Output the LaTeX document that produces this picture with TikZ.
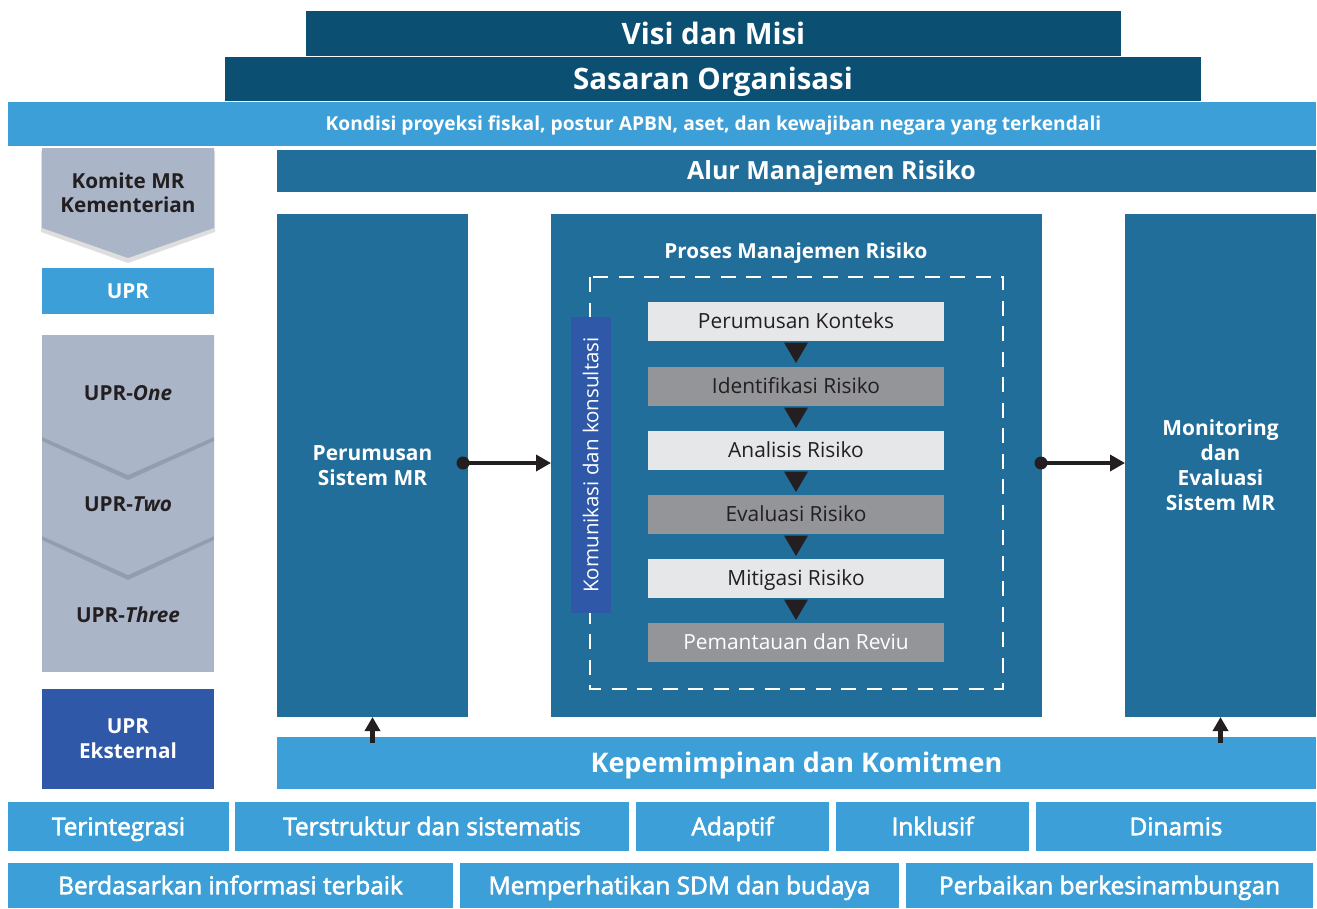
\documentclass[tikz,border=0pt]{standalone}
\usepackage{fontspec}
\setmainfont{Open Sans}
\usetikzlibrary{arrows.meta,calc}
\definecolor{navy}{HTML}{0B4F72}
\definecolor{midblue}{HTML}{216E9A}
\definecolor{lightblue}{HTML}{3D9FD8}
\definecolor{chev}{HTML}{AAB5C8}
\definecolor{royal}{HTML}{2F59A8}
\definecolor{lgray}{HTML}{E6E7E8}
\definecolor{dgray}{HTML}{939598}
\definecolor{ink}{HTML}{231F20}
\newfontfamily\semib[RawFeature={embolden=2.4}]{Open Sans}
\begin{document}
\begin{tikzpicture}[x=1pt,y=-1pt,
  box/.style={inner sep=0pt, outer sep=0pt, align=center},
  capht/.style={text height=#1, text depth=0pt},
  bigband/.style={box, capht=21pt, fill=navy, text=white, font=\bfseries\fontsize{29.5}{32}\selectfont},
  panel/.style={box, fill=midblue, text=white, minimum width=191pt, minimum height=503pt, font=\bfseries\fontsize{20.9}{25}\selectfont},
  lbox/.style={box, fill=lightblue, text=white},
  pbox/.style={box, capht=14.9pt, minimum width=296pt, minimum height=39pt, text=ink, font=\fontsize{20.9}{24}\selectfont},
  light/.style={pbox, fill=lgray},
  dark/.style={pbox, fill=dgray},
  bot/.style={lbox, capht=17.4pt, minimum height=49pt, font=\semib\fontsize{24.4}{28}\selectfont},
  bot2/.style={lbox, capht=17.4pt, minimum height=45pt, font=\semib\fontsize{24.4}{28}\selectfont},
  chevtxt/.style={inner sep=0pt, align=center, text=ink, font=\bfseries\fontsize{20.7}{24}\selectfont},
  flow/.style={ink, line width=3.5pt, -{Triangle[length=15pt,width=16pt]}},
  uparr/.style={ink, line width=5pt, -{Triangle[length=14pt,width=15pt]}},
  tri/.style={fill=ink},
  shad/.style={fill=black, opacity=0.13}
]
\useasboundingbox (0,0) rectangle (1317,908);

% top bands
\node[bigband, minimum width=815pt, minimum height=45pt] (visi) at (713.5,33.5) {Visi dan Misi};
\node[bigband, minimum width=976pt, minimum height=44pt] (sasaran) at (713,79) {Sasaran Organisasi};
\node[lbox, minimum width=1308pt, minimum height=44pt] (kondisi) at (662,124) {};
\node[inner sep=0pt, capht=13.6pt, text=white, font=\bfseries\fontsize{19.2}{22}\selectfont] (kondisitxt) at (713.5,124) {Kondisi proyeksi fiskal, postur APBN, aset, dan kewajiban negara yang terkendali};
\node[box, fill=midblue, minimum width=1039pt, minimum height=42pt] (alur) at (796.5,171) {};
\node[inner sep=0pt, capht=17.9pt, text=white, font=\bfseries\fontsize{25}{28}\selectfont] (alurtxt) at (831.5,171) {Alur Manajemen Risiko};

% left column
\fill[shad] (41,151) -- (215,151) -- (215,232) -- (128,263) -- (41,232) -- cycle;
\fill[chev] (42,148) -- (214,148) -- (214,228) -- (128,258) -- (42,228) -- cycle;
\node[chevtxt] (komite) at (128,193) {Komite MR\\Kementerian};
\node[lbox, capht=14.8pt, minimum width=172pt, minimum height=46pt, font=\bfseries\fontsize{20.7}{24}\selectfont] (upr) at (128,291) {UPR};

\fill[chev] (42,536) rectangle (214,672);
\fill[shad] (42,440) -- (214,440) -- (214,540) -- (128,580) -- (42,540) -- cycle;
\fill[chev] (42,437) -- (214,437) -- (214,536) -- (128,575) -- (42,536) -- cycle;
\fill[shad] (42,338) -- (214,338) -- (214,441) -- (128,480) -- (42,441) -- cycle;
\fill[chev] (42,335) -- (214,335) -- (214,437) -- (128,475) -- (42,437) -- cycle;
\node[chevtxt] (one) at (128,393) {UPR-\textit{One}};
\node[chevtxt] (two) at (128,504) {UPR-\textit{Two}};
\node[chevtxt] (three) at (128,615) {UPR-\textit{Three}};

\node[box, fill=royal, text=white, minimum width=172pt, minimum height=100pt, font=\bfseries\fontsize{20.7}{25}\selectfont] (ekst) at (128,739) {UPR\\Eksternal};

% main panels
\node[panel] (perum) at (372.5,465.5) {Perumusan\\Sistem MR};
\node[panel, minimum width=491pt] (proses) at (796.5,465.5) {};
\node[panel] (monit) at (1220.5,465.5) {Monitoring\\dan\\Evaluasi\\Sistem MR};

\node[inner sep=0pt, capht=14.8pt, text=white, font=\bfseries\fontsize{20.7}{24}\selectfont] (prosestitle) at (796,251) {Proses Manajemen Risiko};
\draw[white, line width=1.6pt, dash pattern=on 15pt off 10.5pt] (590,277) rectangle (1003,689);
\node[box, capht=14.6pt, fill=royal, text=white, rotate=90, minimum width=296pt, minimum height=40pt, font=\fontsize{20.5}{24}\selectfont] (komun) at (591,465) {Komunikasi dan konsultasi};

\node[light] (b1) at (796,321.5) {Perumusan Konteks};
\node[dark]  (b2) at (796,386.5) {Identifikasi Risiko};
\node[light] (b3) at (796,450.5) {Analisis Risiko};
\node[dark]  (b4) at (796,514.5) {Evaluasi Risiko};
\node[light] (b5) at (796,578.5) {Mitigasi Risiko};
\node[dark, text=white] (b6) at (796,642.5) {Pemantauan dan Reviu};
\foreach \a in {b1,b2,b3,b4,b5}{
  \fill[tri] ($(\a.south)+(-12,1.5)$) -- ($(\a.south)+(12,1.5)$) -- ($(\a.south)+(0,22)$) -- cycle;
}

% horizontal arrows
\coordinate (d1) at ([xshift=-5pt,yshift=2.5pt]perum.east);
\coordinate (d2) at ([xshift=-1pt,yshift=2.5pt]proses.east);
\fill[ink] (d1) circle (6.5pt);
\fill[ink] (d2) circle (6.5pt);
\draw[flow] (d1) -- ([yshift=2.5pt]proses.west);
\draw[flow] (d2) -- ([yshift=2.5pt]monit.west);

% leadership
\node[lbox, capht=19.3pt, minimum width=1039pt, minimum height=52pt, font=\bfseries\fontsize{27}{30}\selectfont] (kep) at (796.5,763) {Kepemimpinan dan Komitmen};
\draw[uparr] ([yshift=-6pt]perum.south |- kep.north) -- (perum.south);
\draw[uparr] ([yshift=-6pt]monit.south |- kep.north) -- (monit.south);

% principles
\node[bot, minimum width=221pt] (p1) at (118.5,826.5) {Terintegrasi};
\node[bot, minimum width=394pt] (p2) at (432,826.5) {Terstruktur dan sistematis};
\node[bot, minimum width=193pt] (p3) at (732.5,826.5) {Adaptif};
\node[bot, minimum width=193pt] (p4) at (932.5,826.5) {Inklusif};
\node[bot, minimum width=280pt] (p5) at (1176,826.5) {Dinamis};
\node[bot2, minimum width=445pt] (p6) at (230.5,885.5) {Berdasarkan informasi terbaik};
\node[bot2, minimum width=439pt] (p7) at (679.5,885.5) {Memperhatikan SDM dan budaya};
\node[bot2, minimum width=407pt] (p8) at (1109.5,885.5) {Perbaikan berkesinambungan};
\end{tikzpicture}
\end{document}
